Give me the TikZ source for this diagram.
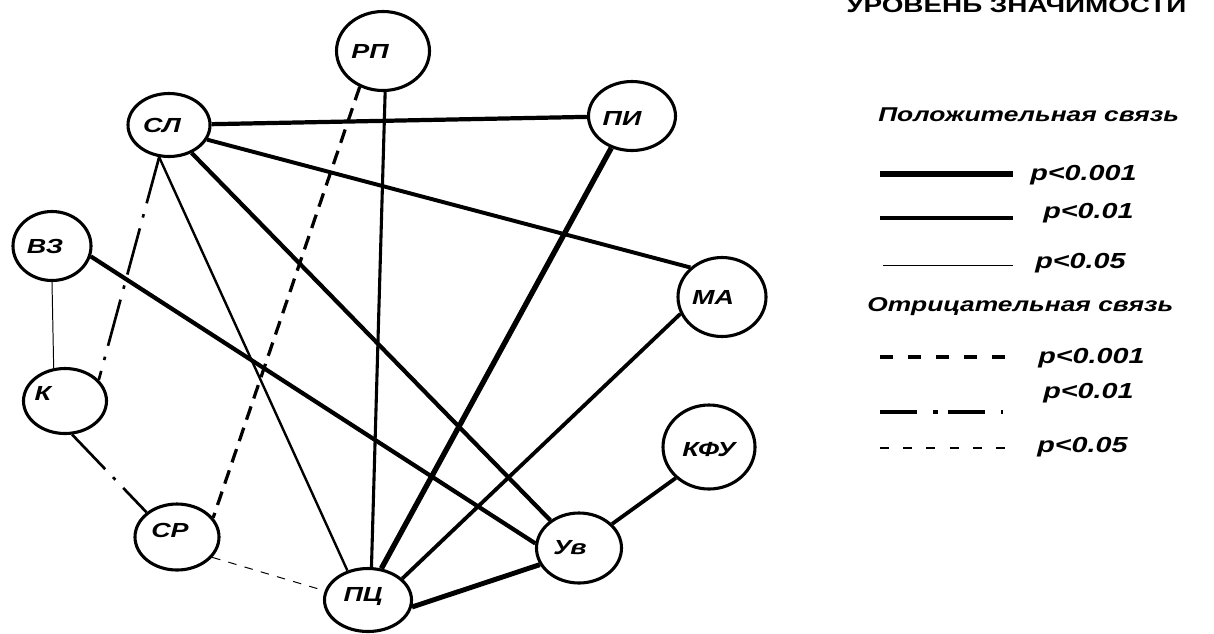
\documentclass[tikz,border=0pt]{standalone}
\usepackage{fontspec}
\setmainfont{Liberation Sans}[FakeStretch=1.32]
\usetikzlibrary{shapes.geometric}
\begin{document}
\begin{tikzpicture}[x=0.025cm,y=-0.025cm,
  nd/.style 2 args={ellipse,draw,line width=2.2pt,minimum width=#1*0.025cm,minimum height=#2*0.025cm,inner sep=0pt},
  lbl/.style={font=\fontsize{14.5}{16}\selectfont\bfseries\itshape,inner sep=0pt},
  head/.style={font=\fontsize{14.2}{16}\selectfont\bfseries\itshape,inner sep=0pt,anchor=west},
  pval/.style={font=\fontsize{15.5}{17}\selectfont\bfseries\itshape,inner sep=0pt,anchor=west},
  dashdot/.style={dash pattern=on 34pt off 8pt on 2.5pt off 8pt},
  negdash/.style={dash pattern=on 10pt off 6pt},
  thindash/.style={dash pattern=on 6pt off 6pt},
]
\useasboundingbox (0,0) rectangle (1214,633);
\clip (0,0) rectangle (1214,633);

% title (cut off at the top, as in the original)
\node[font=\fontsize{15}{17}\selectfont\bfseries,inner sep=0pt,anchor=base west] (title) at (846,12) {УРОВЕНЬ ЗНАЧИМОСТИ};

% nodes
\node[nd={93}{79},label={[lbl,xshift=-0.325cm]center:РП}] (rp) at (383,51) {};
\node[nd={82}{63},label={[lbl,xshift=-0.175cm]center:СЛ}] (sl) at (169,125) {};
\node[nd={87}{69},label={[lbl,xshift=-0.25cm,yshift=-0.05cm]center:ПИ}] (pi) at (632,116) {};
\node[nd={78}{69},label={[lbl,xshift=-0.175cm]center:ВЗ}] (vz) at (52,246) {};
\node[nd={88}{79},label={[lbl,xshift=-0.225cm]center:МА}] (ma) at (722,297) {};
\node[nd={83}{65},label={[lbl,xshift=-0.55cm,yshift=0.2cm]center:К}] (k) at (65,401) {};
\node[nd={84}{66},label={[lbl,xshift=-0.175cm,yshift=0.175cm]center:СР}] (sr) at (177,537) {};
\node[nd={87}{63},label={[lbl,xshift=-0.125cm,yshift=0.075cm]center:ПЦ}] (pc) at (368,600) {};
\node[nd={85}{70},label={[lbl,xshift=-0.225cm]center:Ув}] (uv) at (579,548) {};
\node[nd={92}{84},label={[lbl,yshift=-0.075cm]center:КФУ}] (kfu) at (709,447) {};

% positive links
\draw[line width=3pt] (sl) -- (pi);
\draw[line width=2.8pt] (sl.-21) -- (ma.137);
\draw[line width=3pt] (sl.-51) -- (uv.136);
\draw[line width=1.7pt] (sl.-107) -- (pc.125);
\draw[line width=2.2pt] (rp.-87) -- (pc.84);
\draw[line width=3pt] (vz.-15) -- (uv.174);
\draw[line width=3.8pt] (pi.-123) -- (pc.67);
\draw[line width=2.7pt] (ma.-158) -- (pc.32);
\draw[line width=3.5pt] (pc.-9) -- (uv.-157);
\draw[line width=2.7pt] (kfu.-137) -- (uv.36);
\draw[line width=0.7pt] (vz.-90) -- (k.109);

% negative links
\draw[line width=1.9pt,dashdot] (sl.-107) -- (k.32);
\draw[line width=2.3pt,negdash] (rp.-123) -- (sr.28);
\draw[line width=1.9pt,dashdot] (k.-78) -- (sr.141);
\draw[line width=0.7pt,thindash] (sr.-30) -- (pc.168);

% legend
\node[head] (hpos) at (878,115) {Положительная связь};
\coordinate (l1a) at (880,174); \coordinate (l1b) at (1013,174);
\coordinate (l2a) at (880,218); \coordinate (l2b) at (1013,218);
\coordinate (l3a) at (883,265); \coordinate (l3b) at (1013,265);
\draw[line width=3.6pt] (l1a) -- (l1b);
\draw[line width=2.5pt] (l2a) -- (l2b);
\draw[line width=0.7pt] (l3a) -- (l3b);
\node[pval] (p1) at (1030,175) {p<0.001};
\node[pval] (p2) at (1043,213) {p<0.01};
\node[pval] (p3) at (1035,263) {p<0.05};

\node[head] (hneg) at (867,307) {Отрицательная связь};
\coordinate (l4a) at (880,357); \coordinate (l4b) at (1005,357);
\coordinate (l5a) at (880,412); \coordinate (l5b) at (1003,412);
\coordinate (l6a) at (880,448); \coordinate (l6b) at (1005,448);
\draw[line width=2.5pt,dash pattern=on 9.2pt off 10.7pt] (l4a) -- (l4b);
\draw[line width=2.5pt,dash pattern=on 26.3pt off 11.4pt on 3.6pt off 7.1pt] (l5a) -- (l5b);
\draw[line width=0.8pt,dash pattern=on 6.4pt off 10.1pt] (l6a) -- (l6b);
\node[pval] (p4) at (1038,358) {p<0.001};
\node[pval] (p5) at (1043,393) {p<0.01};
\node[pval] (p6) at (1037,447) {p<0.05};
\end{tikzpicture}
\end{document}
